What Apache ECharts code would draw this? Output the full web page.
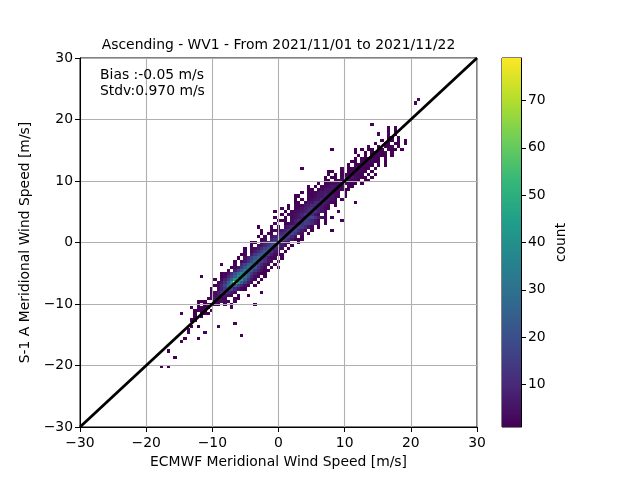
<!DOCTYPE html>
<html lang="en">
<head>
    <meta charset="UTF-8">
    <title>Ascending - WV1</title>
    <style>html, body { margin: 0; background: #fff; }</style>
</head>
<body>
<div id="main" style="width: 640px; height: 480px;"></div>
<script src="https://cdn.jsdelivr.net/npm/echarts@6/dist/echarts.min.js"></script>
<script type="text/javascript">
    var titleText = 'Ascending - WV1 - From 2021/11/01 to 2021/11/22';
    var xName = 'ECMWF Meridional Wind Speed [m/s]';
    var yName = 'S-1 A Meridional Wind Speed [m/s]';
    var statsText = 'Bias :-0.05 m/s\nStdv:0.970 m/s';
    var axisTicks = [-30, -20, -10, 0, 10, 20, 30];
    var countTicks = [10, 20, 30, 40, 50, 60, 70];
    var countMin = 1, countMax = 79;
    var diagonal = [[-30, -30], [30, 30]];
    var viridis = ['#440154', '#482878', '#3e4989', '#31688e', '#26828e', '#1f9e89', '#35b779', '#6ece58', '#b5de2b', '#fde725'];

    // histogram rows: [row bin, first column bin, counts...], 119 bins over -30..30
    var rows = [
        [19, 24, [1, 0, 1]],
        [22, 28, [1]],
        [24, 26, [1]],
        [27, 30, [2]],
        [28, 31, [1, 0, 0, 0, 1]],
        [29, 48, [1]],
        [30, 32, [2, 0, 0, 0, 0, 2]],
        [31, 32, [2]],
        [32, 33, [2, 0, 1, 0, 0, 0, 0, 0, 2]],
        [33, 46, [2]],
        [34, 33, [1, 1]],
        [35, 34, [1, 0, 1]],
        [36, 30, [2, 0, 0, 0, 1, 0, 1, 2, 1]],
        [37, 33, [0, 1, 2, 1, 1, 0, 1]],
        [38, 33, [1, 0, 1, 2, 1, 1, 0, 0, 0, 0, 0, 0, 2]],
        [39, 35, [2, 0, 1, 2, 2, 3, 1, 0, 2, 0, 1, 0, 0, 0, 0, 0, 0, 1]],
        [40, 35, [1, 1, 1, 0, 0, 3, 2, 4, 3, 2, 0, 2]],
        [41, 38, [2, 3, 5, 4, 3, 2, 0, 0, 2, 1]],
        [42, 39, [2, 4, 6, 8, 6, 4, 2, 0, 1, 0, 0, 1]],
        [43, 39, [1, 3, 7, 12, 14, 9, 5, 3, 0, 0, 0, 0, 0, 0, 0, 1]],
        [44, 39, [1, 0, 3, 8, 14, 20, 18, 10, 6, 2, 1]],
        [45, 40, [1, 3, 9, 18, 28, 40, 26, 16, 9, 4, 2, 0, 1]],
        [46, 41, [2, 6, 12, 24, 44, 79, 42, 24, 14, 7, 3, 0, 1]],
        [47, 40, [1, 0, 3, 8, 15, 26, 42, 60, 42, 24, 12, 5, 2, 0, 1]],
        [48, 36, [1, 0, 0, 0, 0, 0, 1, 3, 9, 16, 24, 38, 46, 32, 20, 9, 4, 2, 0, 1]],
        [49, 42, [1, 2, 5, 11, 20, 30, 38, 34, 24, 14, 7, 3, 1, 1]],
        [50, 44, [2, 0, 7, 15, 24, 32, 34, 24, 14, 8, 4, 1, 1]],
        [51, 45, [1, 3, 6, 13, 22, 30, 30, 22, 13, 7, 3, 0, 1, 0, 1]],
        [52, 42, [2, 0, 0, 0, 2, 0, 10, 16, 24, 28, 24, 15, 9, 5, 2, 0, 1]],
        [53, 46, [1, 0, 3, 6, 12, 19, 26, 24, 17, 11, 5, 3, 0, 1]],
        [54, 47, [1, 0, 5, 10, 16, 22, 26, 19, 11, 6, 3, 2, 0, 1]],
        [55, 48, [1, 2, 0, 7, 13, 19, 23, 20, 13, 7, 3, 1, 1]],
        [56, 49, [2, 0, 3, 7, 11, 16, 22, 20, 13, 6, 2, 0, 1]],
        [57, 49, [1, 0, 2, 3, 6, 11, 16, 20, 16, 11, 5, 3, 0, 1]],
        [58, 51, [1, 0, 3, 6, 9, 14, 20, 18, 11, 6, 3, 0, 1]],
        [59, 51, [1, 1, 0, 4, 7, 11, 16, 18, 14, 8, 4, 2, 0, 0, 1]],
        [60, 54, [2, 3, 0, 8, 12, 16, 20, 15, 10, 5, 2, 1, 1]],
        [61, 53, [1, 0, 2, 0, 5, 8, 11, 15, 18, 16, 10, 5, 0, 1]],
        [62, 54, [1, 0, 1, 2, 0, 6, 9, 12, 16, 18, 13, 7, 4, 0, 1]],
        [63, 54, [2, 0, 0, 1, 2, 3, 6, 9, 13, 16, 18, 11, 6, 3, 0, 1, 0, 0, 0, 0, 0, 1]],
        [64, 53, [1, 0, 0, 0, 1, 0, 2, 0, 4, 7, 10, 13, 16, 14, 10, 5, 2, 0, 1]],
        [65, 58, [2, 0, 0, 1, 2, 4, 7, 9, 12, 16, 14, 10, 6, 2, 0, 1]],
        [66, 59, [1, 1, 2, 0, 4, 7, 10, 13, 16, 14, 9, 5, 2, 0, 1, 0, 0, 0, 0, 1]],
        [67, 58, [1, 0, 0, 1, 0, 3, 4, 6, 8, 11, 15, 18, 13, 7, 4, 2, 0, 1]],
        [68, 60, [1, 0, 2, 3, 4, 6, 9, 13, 16, 11, 6, 3, 0, 1]],
        [69, 58, [1, 0, 0, 1, 0, 2, 3, 4, 6, 8, 11, 14, 13, 8, 5, 2, 0, 0, 0, 1]],
        [70, 60, [2, 0, 1, 0, 2, 3, 5, 7, 10, 12, 11, 8, 5, 2, 1]],
        [71, 62, [1, 0, 2, 2, 3, 6, 7, 10, 11, 10, 6, 4, 2, 0, 1]],
        [72, 64, [1, 1, 0, 3, 5, 6, 9, 10, 9, 6, 4, 2, 1, 0, 0, 0, 0, 0, 1]],
        [73, 64, [1, 0, 1, 0, 2, 3, 5, 6, 9, 8, 6, 4, 2, 0, 1]],
        [74, 64, [1, 1, 0, 0, 2, 2, 3, 5, 6, 8, 7, 6, 3, 2, 0, 1]],
        [75, 66, [1, 0, 1, 2, 2, 4, 6, 7, 6, 5, 3, 2, 0, 1]],
        [76, 68, [1, 1, 0, 2, 3, 5, 6, 6, 4, 3, 2, 1, 1]],
        [77, 68, [2, 0, 1, 0, 2, 3, 4, 6, 5, 3, 2, 0, 1, 1]],
        [78, 71, [1, 0, 1, 2, 3, 4, 5, 4, 3, 2, 1, 1, 0, 1]],
        [79, 73, [1, 1, 0, 2, 3, 4, 5, 4, 3, 2, 1, 0, 1, 1]],
        [80, 73, [1, 0, 1, 1, 0, 2, 3, 4, 5, 3, 2, 1, 1, 0, 1]],
        [81, 74, [2, 0, 1, 0, 1, 2, 2, 4, 3, 2, 2, 0, 1, 0, 1]],
        [82, 74, [1, 1, 0, 0, 1, 0, 1, 2, 3, 3, 2, 1, 0, 1]],
        [83, 66, [2]],
        [83, 78, [2, 0, 1, 2, 2, 3, 2, 1, 1, 0, 1]],
        [84, 80, [1, 0, 2, 2, 3, 2, 2, 1, 0, 1, 0, 1]],
        [85, 81, [1, 1, 0, 2, 2, 3, 2, 1, 1, 0, 1]],
        [86, 82, [1, 0, 2, 1, 3, 2, 1, 1, 0, 1]],
        [87, 83, [1, 0, 1, 0, 2, 2, 2, 1, 1, 0, 1]],
        [88, 82, [1, 0, 0, 1, 0, 1, 2, 2, 1, 2, 0, 1]],
        [89, 75, [1, 0, 0, 0, 0, 0, 0, 1, 0, 1, 0, 1, 1, 0, 1, 1, 0, 2, 1, 1, 0, 1]],
        [90, 86, [2, 0, 0, 1, 0, 1, 1, 2, 0, 1]],
        [91, 88, [1, 0, 0, 1, 1, 0, 1, 1, 0, 1]],
        [92, 90, [1, 0, 1, 1, 0, 1, 0, 1]],
        [93, 91, [0, 1, 1, 0, 1]],
        [94, 89, [2, 0, 0, 2, 0, 1]],
        [95, 92, [2, 0, 1]],
        [96, 92, [2, 0, 2]],
        [97, 87, [2]],
        [104, 100, [2]],
        [105, 101, [2]]
    ];

    var binWidth = 60 / 119;
    var fontName = '"DejaVu Sans"';
    var inkColor = '#000';
    var gridColor = '#b0b0b0';

    var cells = [];
    rows.forEach(function (row) {
        row[2].forEach(function (count, k) {
            if (count > 0) {
                cells.push([-30 + (row[1] + k) * binWidth, -30 + row[0] * binWidth, count]);
            }
        });
    });

    function minusLabel(value) {
        return String(value).replace('-', '\u2212');
    }

    // snap to whole pixels so neighbouring bins leave no seam
    function renderCell(params, api) {
        var p0 = api.coord([api.value(0), api.value(1)]);
        var p1 = api.coord([api.value(0) + binWidth, api.value(1) + binWidth]);
        var x0 = Math.round(p0[0]), x1 = Math.round(p1[0]);
        var y0 = Math.round(p0[1]), y1 = Math.round(p1[1]);
        return {
            type: 'rect',
            shape: { x: x0, y: y1, width: x1 - x0, height: y0 - y1 },
            style: { fill: api.visual('color') }
        };
    }

    function renderBar(params, api) {
        var p0 = api.coord([0, countMin]);
        var p1 = api.coord([1, countMax]);
        return {
            type: 'rect',
            shape: { x: p0[0], y: p1[1], width: p1[0] - p0[0], height: p0[1] - p1[1] },
            style: {
                fill: new echarts.graphic.LinearGradient(0, 1, 0, 0, viridis.map(function (c, i) {
                    return { offset: i / (viridis.length - 1), color: c };
                }))
            }
        };
    }

    function mainAxis(name, gap, margin) {
        return {
            type: 'value', gridIndex: 0, min: -30, max: 30, interval: 10, z: 3,
            name: name, nameLocation: 'middle', nameGap: gap,
            nameTextStyle: { fontFamily: fontName, fontSize: 13.9, color: inkColor },
            axisLine: { show: true, onZero: false, lineStyle: { color: inkColor, width: 1 } },
            axisTick: { show: true, length: 5, lineStyle: { color: inkColor, width: 1 } },
            axisLabel: { fontFamily: fontName, fontSize: 13.9, color: inkColor, margin: margin, formatter: minusLabel, customValues: axisTicks },
            splitLine: { show: true, lineStyle: { color: gridColor, width: 1.1 } }
        };
    }

    var chart = echarts.init(document.getElementById('main'), null, { renderer: 'canvas' });
    chart.setOption({
        animation: false,
        backgroundColor: '#fff',
        title: {
            text: titleText, left: 273.5, top: 33, textAlign: 'center',
            textStyle: { fontFamily: fontName, fontSize: 13.9, fontWeight: 'normal', color: inkColor }
        },
        grid: [
            { left: 80, top: 58, width: 397, height: 369, show: true, backgroundColor: 'transparent', borderColor: inkColor, borderWidth: 1 },
            { left: 502, top: 58, width: 19, height: 369, show: true, backgroundColor: 'transparent', borderColor: inkColor, borderWidth: 1 }
        ],
        xAxis: [
            mainAxis(xName, 28, 9),
            { type: 'value', gridIndex: 1, min: 0, max: 1, show: false }
        ],
        yAxis: [
            mainAxis(yName, 36, 7),
            {
                type: 'value', gridIndex: 1, position: 'right', min: countMin, max: countMax,
                name: 'count', nameLocation: 'middle', nameGap: 33, nameRotate: 90,
                nameTextStyle: { fontFamily: fontName, fontSize: 13.9, color: inkColor },
                axisLine: { show: true, onZero: false, lineStyle: { color: inkColor, width: 1 } },
                axisTick: { show: true, length: 5, customValues: countTicks, lineStyle: { color: inkColor, width: 1 } },
                axisLabel: { fontFamily: fontName, fontSize: 13.9, color: inkColor, margin: 7, customValues: countTicks },
                splitLine: { show: false }
            }
        ],
        visualMap: {
            show: false, type: 'continuous', seriesIndex: 0, dimension: 2,
            min: countMin, max: countMax, inRange: { color: viridis }
        },
        graphic: [{
            type: 'text', left: 100, top: 67, z: 10,
            style: { text: statsText, fontFamily: fontName, fontSize: 13.9, lineHeight: 16, fill: inkColor }
        }],
        series: [
            { type: 'custom', xAxisIndex: 0, yAxisIndex: 0, z: 2, silent: true, renderItem: renderCell, data: cells, clip: true },
            { type: 'line', xAxisIndex: 0, yAxisIndex: 0, z: 4, silent: true, symbol: 'none', data: diagonal, lineStyle: { color: inkColor, width: 2.8 } },
            { type: 'custom', xAxisIndex: 1, yAxisIndex: 1, z: 2, silent: true, renderItem: renderBar, data: [[0]] }
        ]
    });
</script>
</body>
</html>
